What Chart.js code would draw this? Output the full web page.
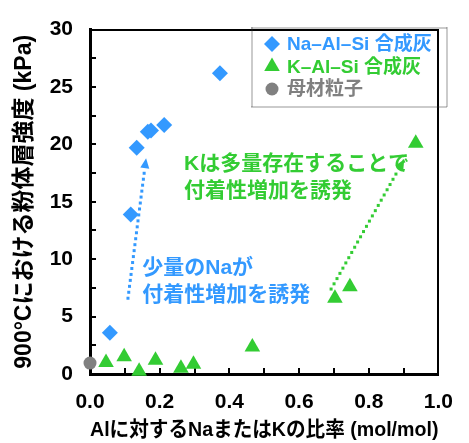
<!DOCTYPE html>
<html>
<head>
<meta charset="utf-8">
<script src="https://cdn.jsdelivr.net/npm/chart.js@4/dist/chart.umd.min.js"></script>
<style>
  body { margin: 0; background: #fff; }
  #wrap { width: 469px; height: 443px; }
</style>
</head>
<body>
<div id="wrap"><canvas id="chart" width="469" height="443"></canvas></div>
<script>
// values
const naX = [0.057, 0.117, 0.134, 0.166, 0.175, 0.213, 0.373];
const naY = [3.6, 13.9, 19.7, 21.1, 21.2, 21.7, 26.2];
const kX = [0.046, 0.098, 0.141, 0.188, 0.261, 0.297, 0.466, 0.703, 0.746, 0.935];
const kY = [1.0, 1.5, 0.25, 1.2, 0.5, 0.85, 2.35, 6.6, 7.6, 20.1];
const baseX = [0];
const baseY = [0.95];

const seriesLabels = ["Na\u2013Al\u2013Si 合成灰", "K\u2013Al\u2013Si 合成灰", "母材粒子"];
const xTickLabels = ["0.0", "0.2", "0.4", "0.6", "0.8", "1.0"];
const yTickLabels = ["0", "5", "10", "15", "20", "25", "30"];
const xTitle = "Alに対するNaまたはKの比率 (mol/mol)";
const yTitle = "900°Cにおける粉体層強度 (kPa)";

// dotted arrows (data units: start -> tip)
const naArrowX = [0.109, 0.161];
const naArrowY = [6.6, 18.8];
const kArrowX = [0.692, 0.902];
const kArrowY = [7.4, 18.7];

// annotations (left edge x, first line centre y)
const naNote = ["少量のNaが", "付着性増加を誘発"];
const naNoteAt = [0.15, 9.2];
const kNote = ["Kは多量存在することで", "付着性増加を誘発"];
const kNoteAt = [0.27, 18.3];

const BLUE = "#3399FF";
const GREEN = "#33CC33";
const GRAY = "#808080";
const FONT = "'Liberation Sans', 'Noto Sans CJK JP', sans-serif";

const toPts = (xs, ys) => xs.map((x, i) => ({ x: x, y: ys[i] }));

// dotted line drawn as small filled squares
function dots(ctx, x1, y1, x2, y2, size, gap) {
  const len = Math.hypot(x2 - x1, y2 - y1);
  const n = Math.floor(len / gap);
  for (let i = 0; i <= n; i++) {
    const t = (i * gap) / len;
    ctx.fillRect(x1 + (x2 - x1) * t - size / 2, y1 + (y2 - y1) * t - size / 2, size, size);
  }
}

function arrow(ctx, xs, ys, sx, sy, color) {
  const x1 = sx.getPixelForValue(xs[0]), y1 = sy.getPixelForValue(ys[0]);
  const x2 = sx.getPixelForValue(xs[1]), y2 = sy.getPixelForValue(ys[1]);
  const ang = Math.atan2(y2 - y1, x2 - x1);
  const head = 10;
  const c = Math.cos(ang), s = Math.sin(ang);
  ctx.fillStyle = color;
  dots(ctx, x1, y1, x2 - c * (head + 2), y2 - s * (head + 2), 3, 6);
  ctx.beginPath();
  ctx.moveTo(x2, y2);
  ctx.lineTo(x2 - c * head - s * 4.5, y2 - s * head + c * 4.5);
  ctx.lineTo(x2 - c * head + s * 4.5, y2 - s * head - c * 4.5);
  ctx.closePath();
  ctx.fill();
}

function note(ctx, lines, at, sx, sy, color) {
  const x = sx.getPixelForValue(at[0]);
  const y = sy.getPixelForValue(at[1]);
  ctx.fillStyle = color;
  ctx.font = "bold 21px " + FONT;
  ctx.textAlign = "left";
  ctx.textBaseline = "middle";
  lines.forEach((t, i) => ctx.fillText(t, x, y + i * 27));
}

const decor = {
  id: "decor",
  beforeDatasetsDraw(chart) {
    const ctx = chart.ctx;
    const a = chart.chartArea;
    const sx = chart.scales.x, sy = chart.scales.y;
    const L = Math.round(a.left), R = Math.round(a.right);
    const T = Math.round(a.top), B = Math.round(a.bottom);
    ctx.save();
    ctx.fillStyle = "#000000";
    // top and right edges of the plot frame
    ctx.fillRect(L, T - 1, R - L + 1, 2);
    ctx.fillRect(R - 1, T - 1, 2, B - T + 1);
    // inward tick marks
    sx.ticks.forEach(t => {
      const px = Math.round(sx.getPixelForValue(t.value));
      ctx.fillRect(px - 1, B - 6, 2, 6);
    });
    sy.ticks.forEach(t => {
      const py = Math.round(sy.getPixelForValue(t.value));
      ctx.fillRect(L, py - 1, 6, 2);
    });
    arrow(ctx, naArrowX, naArrowY, sx, sy, BLUE);
    arrow(ctx, kArrowX, kArrowY, sx, sy, GREEN);
    note(ctx, naNote, naNoteAt, sx, sy, BLUE);
    note(ctx, kNote, kNoteAt, sx, sy, GREEN);
    ctx.restore();
  },
  afterDraw(chart) {
    // legend inside the plot, dotted box
    const ctx = chart.ctx;
    ctx.save();
    ctx.fillStyle = "#333";
    dots(ctx, 252, 28, 447, 28, 1, 2);
    dots(ctx, 252, 107, 447, 107, 1, 2);
    dots(ctx, 252, 28, 252, 107, 1, 2);
    dots(ctx, 447, 28, 447, 107, 1, 2);
    chart.data.datasets.forEach((ds, i) => {
      const cy = 44 + i * 22.5;
      ctx.fillStyle = ds.backgroundColor;
      Chart.helpers.drawPoint(ctx, {
        pointStyle: ds.pointStyle, rotation: 0,
        radius: ds.pointRadius, borderWidth: 0
      }, 272, cy);
      ctx.font = "bold 19px " + FONT;
      ctx.textAlign = "left";
      ctx.textBaseline = "middle";
      ctx.fillText(ds.label, 287, cy + 1);
    });
    ctx.restore();
  }
};

new Chart(document.getElementById("chart"), {
  type: "scatter",
  data: {
    datasets: [
      {
        label: seriesLabels[0],
        data: toPts(naX, naY),
        pointStyle: "rectRot",
        pointRadius: 8,
        backgroundColor: BLUE,
        borderWidth: 0,
        clip: false
      },
      {
        label: seriesLabels[1],
        data: toPts(kX, kY),
        pointStyle: "triangle",
        pointRadius: 9,
        backgroundColor: GREEN,
        borderWidth: 0,
        clip: false
      },
      {
        label: seriesLabels[2],
        data: toPts(baseX, baseY),
        pointStyle: "circle",
        pointRadius: 6.5,
        backgroundColor: GRAY,
        borderWidth: 0,
        clip: false
      }
    ]
  },
  options: {
    responsive: false,
    animation: false,
    devicePixelRatio: 1,
    layout: { padding: { left: 0, right: 12, top: 17, bottom: 0 } },
    plugins: {
      legend: { display: false },
      tooltip: { enabled: false }
    },
    scales: {
      x: {
        type: "linear",
        min: 0,
        max: 1,
        afterFit: s => { s.height = 69; },
        border: { display: true, width: 3, color: "#000000" },
        grid: { display: false, drawTicks: false },
        ticks: {
          stepSize: 0.1,
          autoSkip: false,
          maxRotation: 0,
          padding: 16,
          color: "#000",
          font: { family: FONT, size: 21, weight: "bold" },
          callback: (v, i) => (i % 2 === 0 ? xTickLabels[i / 2] : "")
        },
        title: {
          display: true,
          text: xTitle,
          color: "#000",
          font: { family: FONT, size: 21, weight: "bold" },
          padding: { top: 0, bottom: 0 }
        }
      },
      y: {
        min: 0,
        max: 30,
        afterFit: s => { s.width = 90; },
        border: { display: true, width: 3, color: "#000000" },
        grid: { display: false, drawTicks: false },
        ticks: {
          stepSize: 2.5,
          autoSkip: false,
          padding: 17,
          color: "#000",
          font: { family: FONT, size: 21, weight: "bold" },
          callback: (v, i) => (i % 2 === 0 ? yTickLabels[i / 2] : "")
        },
        title: {
          display: true,
          text: yTitle,
          color: "#000",
          font: { family: FONT, size: 23, weight: "bold" },
          padding: { top: 11, bottom: 0 }
        }
      }
    }
  },
  plugins: [decor]
});
</script>
</body>
</html>
